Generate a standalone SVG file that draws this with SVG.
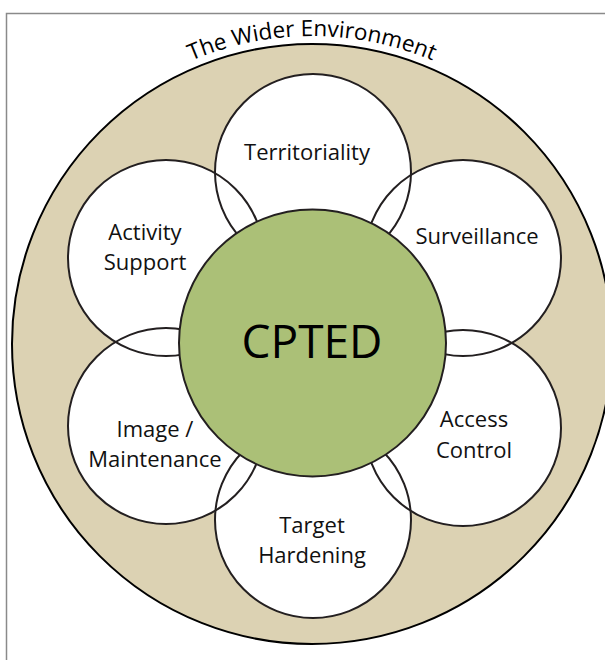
<svg xmlns="http://www.w3.org/2000/svg" width="605" height="660" viewBox="0 0 605 660">
<style>
.lbl{font-family:"Open Sans","Noto Sans",sans-serif;font-size:22px;fill:#111;text-anchor:middle}
.disk{fill:#fff;stroke:none}
.ring{fill:none;stroke:#231f20;stroke-width:2}
</style>
<defs>
<path id="arc" d="M 4 344 A 308 308 0 0 1 620 344"/>
</defs>
<rect x="6.5" y="13.5" width="700" height="700" fill="#fff" stroke="#8a8a8a" stroke-width="1.5"/>
<g id="environment">
<circle cx="312" cy="344" r="300" fill="#dcd2b3" stroke="#000" stroke-width="2"/>
<text style="font-family:'Open Sans','Noto Sans',sans-serif;font-size:22.5px;fill:#000" text-anchor="middle"><textPath href="#arc" startOffset="50%">The Wider Environment</textPath></text>
</g>
<g id="fills">
<circle class="disk" cx="313" cy="172" r="98"/>
<circle class="disk" cx="463" cy="258" r="98"/>
<circle class="disk" cx="463" cy="428" r="98"/>
<circle class="disk" cx="313" cy="520" r="98"/>
<circle class="disk" cx="166" cy="426" r="98"/>
<circle class="disk" cx="166" cy="258" r="98"/>
</g>
<g id="territoriality"><circle class="ring" cx="313" cy="172" r="98"/><text class="lbl" x="307" y="160">Territoriality</text></g>
<g id="surveillance"><circle class="ring" cx="463" cy="258" r="98"/><text class="lbl" x="477" y="244">Surveillance</text></g>
<g id="access-control"><circle class="ring" cx="463" cy="428" r="98"/><text class="lbl" x="474" y="427">Access</text><text class="lbl" x="474" y="458">Control</text></g>
<g id="target-hardening"><circle class="ring" cx="313" cy="520" r="98"/><text class="lbl" x="312" y="533">Target</text><text class="lbl" x="312" y="563">Hardening</text></g>
<g id="image-maintenance"><circle class="ring" cx="166" cy="426" r="98"/><text class="lbl" x="155" y="437">Image /</text><text class="lbl" x="155" y="467">Maintenance</text></g>
<g id="activity-support"><circle class="ring" cx="166" cy="258" r="98"/><text class="lbl" x="145" y="240">Activity</text><text class="lbl" x="145" y="270">Support</text></g>
<g id="cpted"><circle cx="312.5" cy="343" r="133.5" fill="#abc077" stroke="#231f20" stroke-width="2"/><text x="312" y="358" style="font-family:'Open Sans','Noto Sans',sans-serif;font-size:46px;fill:#000" text-anchor="middle">CPTED</text></g>
<g id="connectors"/>
</svg>
